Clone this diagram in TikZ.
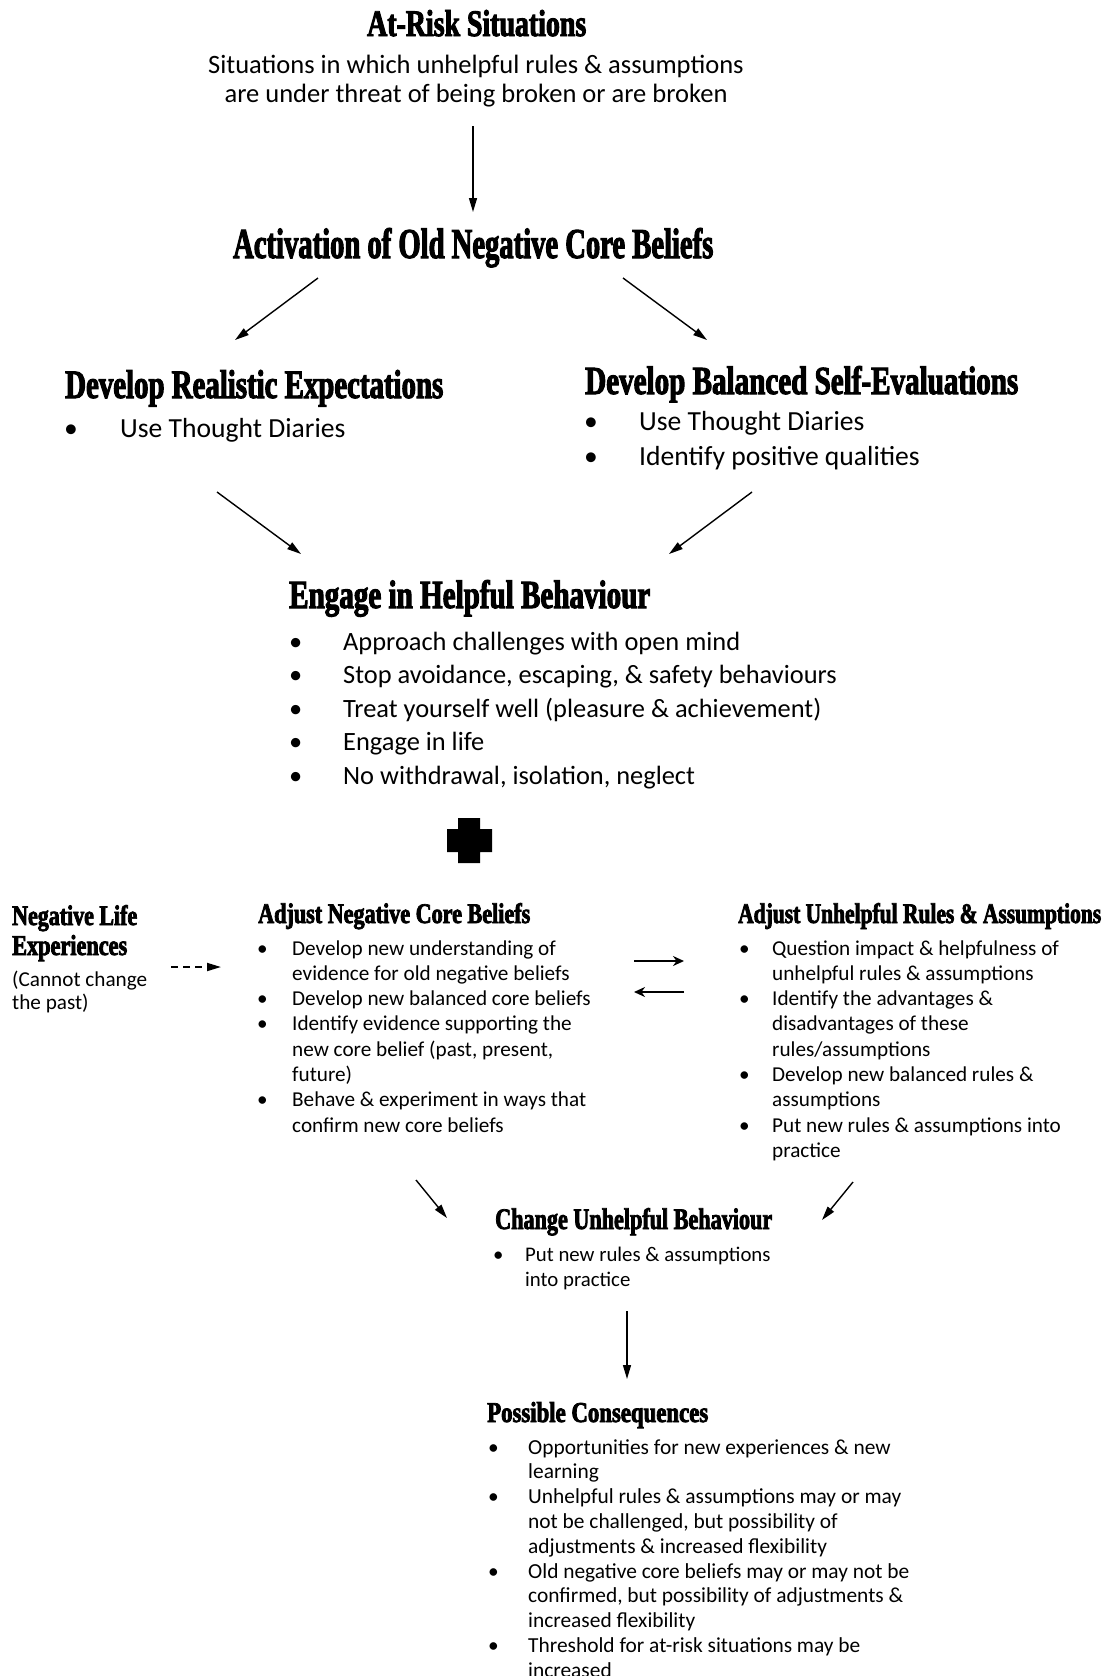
\documentclass[tikz,border=0pt]{standalone}
\usepackage{fontspec}
\usepackage{graphicx}
\setmainfont{Carlito}
\newfontfamily\headfont{Liberation Serif}[FakeStretch=0.7,FakeBold=2.5]
\usetikzlibrary{arrows.meta}
\newcommand{\headbox}[3]{\resizebox{#1pt}{#2pt}{\headfont\bfseries #3}}
\newcommand{\blist}[2]{\begin{tabular}[t]{@{}p{#1pt}@{}l@{}}#2\end{tabular}}
\newcommand{\bu}{\textbullet}

\begin{document}
\begin{tikzpicture}[x=1pt,y=-1pt,
    head/.style={anchor=base west,inner sep=0pt},
    txt/.style={anchor=base west,inner sep=0pt,font=\fontsize{21.2}{25.3}\selectfont},
    bigtxt/.style={anchor=base west,inner sep=0pt,font=\fontsize{26.4}{33.5}\selectfont},
    arr/.style={-{Triangle[length=14pt,width=8pt]},line width=1.4pt},
    swap/.style={-{Stealth[length=11pt,width=10pt]},line width=2.2pt}]
  \useasboundingbox (0,0) rectangle (1104,1676);
  \node[head] (risk) at (367,36) {\headbox{219}{26}{At-Risk Situations}};
  \node[anchor=base,inner sep=0pt,font=\fontsize{26.5}{29}\selectfont] (riskdesc) at (476,73)
    {\begin{tabular}[t]{@{}c@{}}Situations in which unhelpful rules \& assumptions\\are under threat of being broken or are broken\end{tabular}};
  \node[head] (activ) at (233,258) {\headbox{480}{30}{Activation of Old Negative Core Beliefs}};
  \node[head] (real) at (65,398) {\headbox{378}{28}{Develop Realistic Expectations}};
  \node[bigtxt,font=\fontsize{27.6}{35}\selectfont] (reallist) at (64,437) {\blist{56}{\bu & Use Thought Diaries}};
  \node[head] (bal) at (585,394) {\headbox{433}{28}{Develop Balanced Self-Evaluations}};
  \node[bigtxt,font=\fontsize{27.6}{35}\selectfont] (ballist) at (584,430)
    {\blist{55}{\bu & Use Thought Diaries\\ \bu & Identify positive qualities}};
  \node[head] (engage) at (289,608) {\headbox{361}{28}{Engage in Helpful Behaviour}};
  \node[bigtxt] (engagelist) at (289,650) {\blist{54}{\bu & Approach challenges with open mind\\
    \bu & Stop avoidance, escaping, \& safety behaviours\\
    \bu & Treat yourself well (pleasure \& achievement)\\
    \bu & Engage in life\\
    \bu & No withdrawal, isolation, neglect}};
  \fill (458,818) rectangle (480,863) (447,829) rectangle (492,852);
  \node[head] (life) at (12,925) {\headbox{125}{20}{Negative Life}};
  \node[head] (exper) at (12,955) {\headbox{115}{20}{Experiences}};
  \node[txt,font=\fontsize{21.2}{23}\selectfont] (past) at (12,986)
    {\begin{tabular}[t]{@{}l@{}}(Cannot change\\the past)\end{tabular}};
  \node[head] (adjneg) at (258,923) {\headbox{272}{20}{Adjust Negative Core Beliefs}};
  \node[txt] (adjneglist) at (257,955) {\blist{35}{\bu & Develop new understanding of\\
    & evidence for old negative beliefs\\
    \bu & Develop new balanced core beliefs\\
    \bu & Identify evidence supporting the\\
    & new core belief (past, present,\\
    & future)\\
    \bu & Behave \& experiment in ways that\\
    & confirm new core beliefs}};
  \node[head] (adjrul) at (738,923) {\headbox{363}{20}{Adjust Unhelpful Rules \& Assumptions}};
  \node[txt] (adjrullist) at (739,955) {\blist{33}{\bu & Question impact \& helpfulness of\\
    & unhelpful rules \& assumptions\\
    \bu & Identify the advantages \&\\
    & disadvantages of these\\
    & rules/assumptions\\
    \bu & Develop new balanced rules \&\\
    & assumptions\\
    \bu & Put new rules \& assumptions into\\
    & practice}};
  \node[head] (change) at (495,1229) {\headbox{277}{21}{Change Unhelpful Behaviour}};
  \node[txt,font=\fontsize{20.8}{25}\selectfont] (changelist) at (493,1261) {\blist{32}{\bu & Put new rules \& assumptions\\ & into practice}};
  \node[head] (conseq) at (487,1422) {\headbox{221}{20}{Possible Consequences}};
  \node[txt,font=\fontsize{21.4}{24.8}\selectfont] (conseqlist) at (488,1454) {\blist{40}{\bu & Opportunities for new experiences \& new\\
    & learning\\
    \bu & Unhelpful rules \& assumptions may or may\\
    & not be challenged, but possibility of\\
    & adjustments \& increased flexibility\\
    \bu & Old negative core beliefs may or may not be\\
    & confirmed, but possibility of adjustments \&\\
    & increased flexibility\\
    \bu & Threshold for at-risk situations may be\\
    & increased}};
  \coordinate (riskout) at (473,126);   \coordinate (activin) at (473,212);
  \coordinate (activl) at (318,278);    \coordinate (realin) at (235,340);
  \coordinate (activr) at (623,278);    \coordinate (balin) at (707,340);
  \coordinate (realout) at (217,492);   \coordinate (engagel) at (301,554);
  \coordinate (balout) at (752,492);    \coordinate (engager) at (669,554);
  \coordinate (lifeout) at (171,967);   \coordinate (adjnegin) at (221,967);
  \coordinate (swapl) at (634,961);     \coordinate (swapr) at (684,961);
  \coordinate (swapl2) at (634,992);    \coordinate (swapr2) at (684,992);
  \coordinate (adjnegout) at (416,1180); \coordinate (changel) at (447,1218);
  \coordinate (adjrulout) at (853,1182); \coordinate (changer) at (822,1220);
  \coordinate (changeout) at (627,1311); \coordinate (conseqin) at (627,1379);
  \draw[arr] (riskout) -- (activin);
  \draw[arr] (activl) -- (realin);
  \draw[arr] (activr) -- (balin);
  \draw[arr] (realout) -- (engagel);
  \draw[arr] (balout) -- (engager);
  \draw[arr,line width=1.8pt,dash pattern=on 7pt off 5pt] (lifeout) -- (adjnegin);
  \draw[swap] (swapl) -- (swapr);
  \draw[swap] (swapr2) -- (swapl2);
  \draw[arr] (adjnegout) -- (changel);
  \draw[arr] (adjrulout) -- (changer);
  \draw[arr] (changeout) -- (conseqin);
\end{tikzpicture}
\end{document}
